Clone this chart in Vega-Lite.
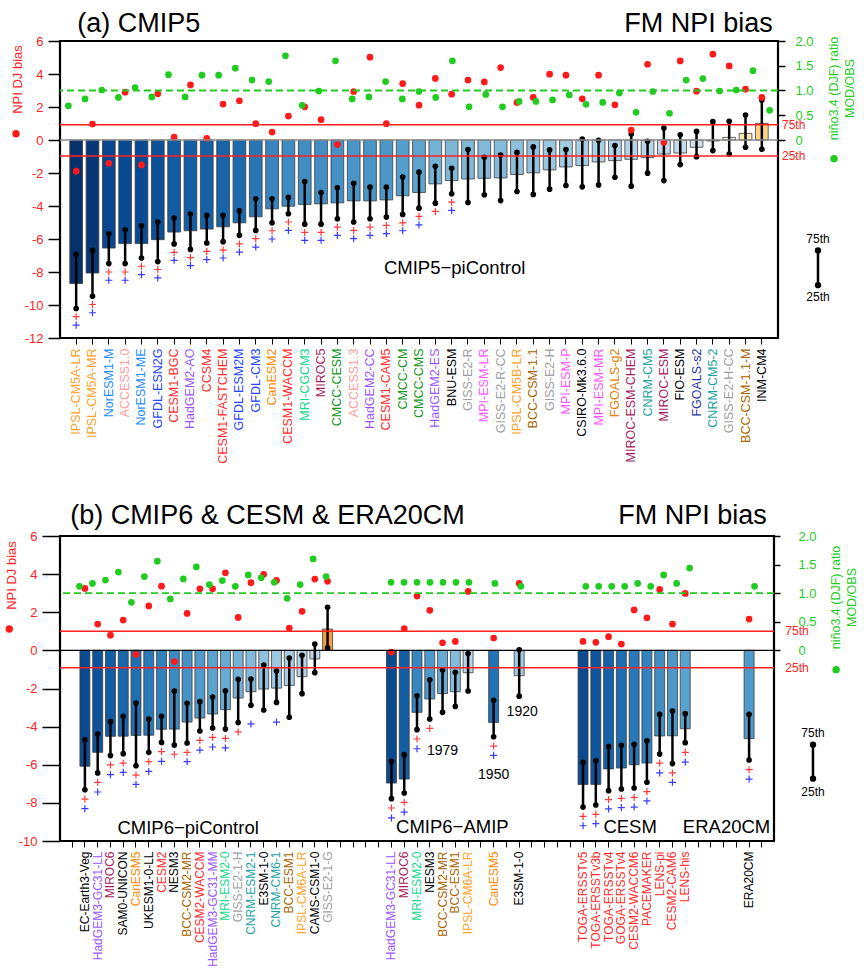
{
  "$schema": "https://vega.github.io/schema/vega-lite/v6.json",
  "padding": {"left": 4, "top": 8, "right": 0, "bottom": 0},
  "spacing": 35,
  "config": {
    "font": "Liberation Sans",
    "view": {"stroke": "black", "strokeWidth": 2.2},
    "axis": {"grid": false, "domain": false, "titleFontWeight": "normal", "labelFont": "Liberation Sans", "titleFont": "Liberation Sans", "tickColor": "black", "labelOverlap": false},
    "text": {"font": "Liberation Sans", "color": "black"}
  },
  "datasets": {
    "a": [
      {"model":"IPSL-CM5A-LR","bias":-8.70,"q75":-6.93,"q25":-10.21,"pr":-10.71,"pb":-11.22,"npi":-1.89,"ratio":0.69},
      {"model":"IPSL-CM5A-MR","bias":-8.06,"q75":-6.69,"q25":-9.47,"pr":-9.97,"pb":-10.47,"npi":0.97,"ratio":0.83},
      {"model":"NorESM1-M","bias":-6.55,"q75":-5.68,"q25":-7.49,"pr":-8.0,"pb":-8.5,"npi":-1.41,"ratio":1.01},
      {"model":"ACCESS1.0","bias":-6.28,"q75":-5.44,"q25":-7.49,"pr":-8.0,"pb":-8.5,"npi":2.90,"ratio":0.86},
      {"model":"NorESM1-ME","bias":-6.28,"q75":-5.20,"q25":-7.15,"pr":-7.65,"pb":-8.16,"npi":-1.51,"ratio":1.06},
      {"model":"GFDL-ESN2G","bias":-6.04,"q75":-4.97,"q25":-7.37,"pr":-7.85,"pb":-8.36,"npi":2.80,"ratio":0.87},
      {"model":"CESM1-BGC","bias":-5.58,"q75":-4.73,"q25":-6.30,"pr":-6.81,"pb":-7.29,"npi":0.18,"ratio":1.32},
      {"model":"HadGEM2-AO","bias":-5.50,"q75":-4.49,"q25":-6.63,"pr":-7.13,"pb":-7.61,"npi":3.34,"ratio":0.87},
      {"model":"CCSM4","bias":-5.40,"q75":-4.57,"q25":-6.24,"pr":-6.75,"pb":-7.25,"npi":0.10,"ratio":1.31},
      {"model":"CESM1-FASTCHEM","bias":-5.26,"q75":-4.57,"q25":-6.16,"pr":-6.67,"pb":-7.15,"npi":2.18,"ratio":1.31},
      {"model":"GFDL-ESM2M","bias":-5.02,"q75":-4.29,"q25":-5.78,"pr":-6.30,"pb":-6.79,"npi":2.38,"ratio":1.45},
      {"model":"GFDL-CM3","bias":-4.65,"q75":-3.56,"q25":-5.48,"pr":-5.98,"pb":-6.49,"npi":0.99,"ratio":1.21},
      {"model":"CanESM2","bias":-4.17,"q75":-3.56,"q25":-5.02,"pr":-5.50,"pb":-6.00,"npi":0.48,"ratio":1.18},
      {"model":"CESM1-WACCM","bias":-4.01,"q75":-3.48,"q25":-4.47,"pr":-4.97,"pb":-5.48,"npi":1.45,"ratio":1.70},
      {"model":"MRI-CGCM3","bias":-3.91,"q75":-2.52,"q25":-5.10,"pr":-5.60,"pb":-6.08,"npi":2.01,"ratio":0.70},
      {"model":"MIROC5","bias":-3.87,"q75":-3.18,"q25":-5.10,"pr":-5.60,"pb":-6.08,"npi":1.23,"ratio":0.99},
      {"model":"CMCC-CESM","bias":-3.81,"q75":-2.90,"q25":-4.77,"pr":-5.28,"pb":-5.78,"npi":-0.28,"ratio":1.60},
      {"model":"ACCESS1.3","bias":-3.69,"q75":-2.62,"q25":-4.97,"pr":-5.48,"pb":-5.98,"npi":2.94,"ratio":0.83},
      {"model":"HadGEM2-CC","bias":-3.69,"q75":-2.86,"q25":-4.77,"pr":-5.28,"pb":-5.78,"npi":5.02,"ratio":0.87},
      {"model":"CESM1-CAM5","bias":-3.63,"q75":-2.86,"q25":-4.67,"pr":-5.18,"pb":-5.68,"npi":0.99,"ratio":1.18},
      {"model":"CMCC-CM","bias":-3.38,"q75":-2.24,"q25":-4.51,"pr":-5.02,"pb":-5.50,"npi":3.42,"ratio":0.83},
      {"model":"CMCC-CMS","bias":-3.18,"q75":-1.95,"q25":-4.13,"pr":-4.63,"pb":-5.14,"npi":2.11,"ratio":0.98},
      {"model":"HadGEM2-ES","bias":-2.66,"q75":-1.59,"q25":-3.83,"pr":-4.33,"pb":null,"npi":3.73,"ratio":0.86},
      {"model":"BNU-ESM","bias":-2.46,"q75":-1.71,"q25":-3.26,"pr":-3.77,"pb":-4.27,"npi":2.78,"ratio":1.60},
      {"model":"GISS-E2-R","bias":-2.36,"q75":-0.58,"q25":-3.79,"pr":null,"pb":null,"npi":3.63,"ratio":0.67},
      {"model":"MPI-ESM-LR","bias":-2.32,"q75":-1.05,"q25":-3.32,"pr":null,"pb":null,"npi":3.52,"ratio":0.92},
      {"model":"GISS-E2-R-CC","bias":-2.30,"q75":-0.91,"q25":-3.67,"pr":null,"pb":null,"npi":4.39,"ratio":0.67},
      {"model":"IPSL-CM5B-LR","bias":-2.09,"q75":-0.75,"q25":-3.12,"pr":null,"pb":null,"npi":2.28,"ratio":0.78},
      {"model":"BCC-CSM-1.1","bias":-1.99,"q75":-0.42,"q25":-3.30,"pr":null,"pb":null,"npi":2.58,"ratio":0.78},
      {"model":"GISS-E2-H","bias":-1.81,"q75":-0.60,"q25":-2.98,"pr":null,"pb":null,"npi":3.99,"ratio":0.81},
      {"model":"MPI-ESM-P","bias":-1.63,"q75":-0.58,"q25":-2.76,"pr":null,"pb":null,"npi":3.93,"ratio":0.91},
      {"model":"CSIRO-Mk3.6.0","bias":-1.55,"q75":0.06,"q25":-2.84,"pr":null,"pb":null,"npi":2.50,"ratio":0.72},
      {"model":"MPI-ESM-MR","bias":-1.33,"q75":-0.02,"q25":-2.72,"pr":null,"pb":null,"npi":3.93,"ratio":0.76},
      {"model":"FGOALS-g2","bias":-1.25,"q75":-0.34,"q25":-2.26,"pr":null,"pb":null,"npi":2.13,"ratio":0.95},
      {"model":"MIROC-ESM-CHEM","bias":-1.17,"q75":0.36,"q25":-2.80,"pr":null,"pb":null,"npi":0.60,"ratio":0.56},
      {"model":"CNRM-CM5","bias":-1.07,"q75":-0.08,"q25":-2.01,"pr":null,"pb":null,"npi":4.59,"ratio":0.98},
      {"model":"MIROC-ESM","bias":-0.85,"q75":0.73,"q25":-2.46,"pr":null,"pb":null,"npi":-0.14,"ratio":0.54},
      {"model":"FIO-ESM","bias":-0.79,"q75":0.32,"q25":-1.49,"pr":null,"pb":null,"npi":4.79,"ratio":1.21},
      {"model":"FGOALS-s2","bias":-0.44,"q75":0.52,"q25":-1.01,"pr":null,"pb":null,"npi":2.96,"ratio":1.24},
      {"model":"CNRM-CM5-2","bias":-0.06,"q75":1.11,"q25":-0.64,"pr":null,"pb":null,"npi":5.20,"ratio":0.99},
      {"model":"GISS-E2-H-CC","bias":0.16,"q75":1.13,"q25":-0.85,"pr":null,"pb":null,"npi":4.49,"ratio":1.01},
      {"model":"BCC-CSM-1.1-M","bias":0.40,"q75":1.51,"q25":-0.44,"pr":null,"pb":null,"npi":3.08,"ratio":1.40},
      {"model":"INM-CM4","bias":1.01,"q75":2.42,"q25":-0.56,"pr":null,"pb":null,"npi":2.58,"ratio":0.60}
    ],
    "b": [
      {"run":"EC-Earth3-Veg","exp":"pi","bias":-6.08,"q75":-4.69,"q25":-7.31,"pr":-7.80,"pb":-8.30,"npi":3.25,"ratio":1.12},
      {"run":"HadGEM3-GC31-LL","exp":"pi","bias":-5.35,"q75":-4.39,"q25":-6.43,"pr":-6.92,"pb":-7.43,"npi":1.38,"ratio":1.17},
      {"run":"MIROC6","exp":"pi","bias":-4.51,"q75":-3.74,"q25":-5.52,"pr":-6.01,"pb":-6.52,"npi":0.80,"ratio":1.23},
      {"run":"SAM0-UNICON","exp":"pi","bias":-4.50,"q75":-3.46,"q25":-5.42,"pr":-5.91,"pb":-6.40,"npi":1.59,"ratio":1.37},
      {"run":"CanESM5","exp":"pi","bias":-4.46,"q75":-2.76,"q25":-6.05,"pr":-6.54,"pb":-7.03,"npi":-0.21,"ratio":0.84},
      {"run":"UKESM1-0-LL","exp":"pi","bias":-4.45,"q75":-3.60,"q25":-5.35,"pr":-5.84,"pb":-6.35,"npi":2.33,"ratio":1.29},
      {"run":"CESM2","exp":"pi","bias":-4.14,"q75":-3.46,"q25":-4.83,"pr":-5.31,"pb":-5.82,"npi":3.37,"ratio":1.56},
      {"run":"NESM3","exp":"pi","bias":-4.13,"q75":-2.13,"q25":-4.97,"pr":-5.45,"pb":null,"npi":-0.59,"ratio":0.90},
      {"run":"BCC-CSM2-MR","exp":"pi","bias":-3.76,"q75":-2.78,"q25":-4.86,"pr":-5.35,"pb":-5.84,"npi":1.94,"ratio":1.25},
      {"run":"CESM2-WACCM","exp":"pi","bias":-3.55,"q75":-2.69,"q25":-4.23,"pr":-4.72,"pb":-5.23,"npi":3.23,"ratio":1.46},
      {"run":"HadGEM3-GC31-MM","exp":"pi","bias":-3.34,"q75":-2.45,"q25":-4.07,"pr":-4.56,"pb":-5.07,"npi":3.23,"ratio":1.15},
      {"run":"MRI-ESM2-0","exp":"pi","bias":-3.11,"q75":-2.12,"q25":-4.13,"pr":-4.62,"pb":-5.12,"npi":4.07,"ratio":1.22},
      {"run":"GISS-E2-1-H","exp":"pi","bias":-2.50,"q75":-1.52,"q25":-3.79,"pr":-4.28,"pb":null,"npi":1.73,"ratio":1.12},
      {"run":"CNRM-ESM2-1","exp":"pi","bias":-2.17,"q75":-1.50,"q25":-2.88,"pr":null,"pb":-3.86,"npi":3.55,"ratio":1.32},
      {"run":"E3SM-1-0","exp":"pi","bias":-2.03,"q75":-0.77,"q25":-3.13,"pr":null,"pb":null,"npi":3.99,"ratio":1.27},
      {"run":"CNRM-CM6-1","exp":"pi","bias":-1.98,"q75":-1.08,"q25":-2.73,"pr":null,"pb":-3.76,"npi":3.67,"ratio":1.19},
      {"run":"BCC-ESM1","exp":"pi","bias":-1.84,"q75":-0.40,"q25":-3.51,"pr":null,"pb":null,"npi":1.17,"ratio":0.91},
      {"run":"IPSL-CM6A-LR","exp":"pi","bias":-1.38,"q75":-0.26,"q25":-2.27,"pr":null,"pb":null,"npi":2.05,"ratio":1.15},
      {"run":"CAMS-CSM1-0","exp":"pi","bias":-0.45,"q75":0.33,"q25":-1.17,"pr":null,"pb":null,"npi":3.74,"ratio":1.60},
      {"run":"GISS-E2-1-G","exp":"pi","bias":1.12,"q75":2.26,"q25":0.14,"pr":null,"pb":null,"npi":3.62,"ratio":1.29},
      {"run":"HadGEM3-GC31-LL AMIP","exp":"amip","bias":-6.96,"q75":-5.82,"q25":-7.78,"pr":-8.27,"pb":-8.79,"npi":-0.09,"ratio":1.19},
      {"run":"MIROC6 AMIP","exp":"amip","bias":-6.75,"q75":-5.47,"q25":-7.48,"pr":-7.97,"pb":-8.48,"npi":1.14,"ratio":1.19},
      {"run":"MRI-ESM2-0 AMIP","exp":"amip","bias":-3.25,"q75":-2.38,"q25":-4.16,"pr":-4.65,"pb":-5.16,"npi":2.85,"ratio":1.19},
      {"run":"NESM3 AMIP","exp":"amip","bias":-2.55,"q75":-1.54,"q25":-3.60,"pr":-4.09,"pb":null,"npi":2.10,"ratio":1.19},
      {"run":"BCC-CSM2-MR AMIP","exp":"amip","bias":-2.27,"q75":-1.03,"q25":-3.25,"pr":null,"pb":null,"npi":0.40,"ratio":1.19},
      {"run":"BCC-ESM1 AMIP","exp":"amip","bias":-2.17,"q75":-1.15,"q25":-2.94,"pr":null,"pb":null,"npi":0.47,"ratio":1.19},
      {"run":"IPSL-CM6A-LR AMIP","exp":"amip","bias":-1.17,"q75":-0.17,"q25":-2.13,"pr":null,"pb":null,"npi":3.09,"ratio":1.19},
      {"run":"CanESM5 AMIP","exp":"amip","bias":-3.78,"q75":-2.62,"q25":-4.53,"pr":-5.02,"pb":-5.51,"npi":0.65,"ratio":1.17},
      {"run":"E3SM-1-0 AMIP","exp":"amip","bias":-1.33,"q75":0.03,"q25":-2.40,"pr":null,"pb":null,"npi":3.51,"ratio":1.12},
      {"run":"TOGA-ERSSTv5","exp":"cesm","bias":-7.04,"q75":-5.87,"q25":-8.22,"pr":-8.71,"pb":-9.20,"npi":0.47,"ratio":1.12},
      {"run":"TOGA-ERSSTv3b","exp":"cesm","bias":-7.03,"q75":-5.79,"q25":-8.11,"pr":-8.60,"pb":-9.09,"npi":0.42,"ratio":1.12},
      {"run":"TOGA-ERSSTv4","exp":"cesm","bias":-6.22,"q75":-5.05,"q25":-7.36,"pr":-7.83,"pb":-8.32,"npi":0.72,"ratio":1.12},
      {"run":"GOGA-ERSSTv4","exp":"cesm","bias":-6.17,"q75":-4.98,"q25":-7.27,"pr":-7.76,"pb":-8.25,"npi":0.33,"ratio":1.12},
      {"run":"CESM2-WACCM6","exp":"cesm","bias":-6.00,"q75":-4.93,"q25":-7.22,"pr":-7.71,"pb":-8.22,"npi":2.12,"ratio":1.17},
      {"run":"PACEMAKER","exp":"cesm","bias":-5.91,"q75":-4.74,"q25":-6.92,"pr":-7.41,"pb":-7.90,"npi":1.71,"ratio":1.12},
      {"run":"LENS-pi","exp":"cesm","bias":-4.49,"q75":-3.36,"q25":-5.44,"pr":-5.91,"pb":-6.43,"npi":3.20,"ratio":1.32},
      {"run":"CESM2-CAM6","exp":"cesm","bias":-4.48,"q75":-3.18,"q25":-5.94,"pr":-6.43,"pb":-6.92,"npi":1.38,"ratio":1.17},
      {"run":"LENS-his","exp":"cesm","bias":-4.11,"q75":-3.32,"q25":-4.84,"pr":-5.35,"pb":-5.86,"npi":2.99,"ratio":1.44},
      {"run":"ERA20CM","exp":"era","bias":-4.63,"q75":-3.36,"q25":-5.75,"pr":-6.26,"pb":-6.75,"npi":1.64,"ratio":1.12}
    ]
  },
  "vconcat": [
    {
      "width": 718,
      "height": 297,
      "resolve": {"scale": {"x": "independent", "y": "independent"}},
      "layer": [
        {
          "layer": [
            {
              "data": {"name": "a"},
              "encoding": {
                "x": {"field": "model", "type": "nominal", "sort": null,
                  "scale": {"domain": ["IPSL-CM5A-LR","IPSL-CM5A-MR","NorESM1-M","ACCESS1.0","NorESM1-ME","GFDL-ESN2G","CESM1-BGC","HadGEM2-AO","CCSM4","CESM1-FASTCHEM","GFDL-ESM2M","GFDL-CM3","CanESM2","CESM1-WACCM","MRI-CGCM3","MIROC5","CMCC-CESM","ACCESS1.3","HadGEM2-CC","CESM1-CAM5","CMCC-CM","CMCC-CMS","HadGEM2-ES","BNU-ESM","GISS-E2-R","MPI-ESM-LR","GISS-E2-R-CC","IPSL-CM5B-LR","BCC-CSM-1.1","GISS-E2-H","MPI-ESM-P","CSIRO-Mk3.6.0","MPI-ESM-MR","FGOALS-g2","MIROC-ESM-CHEM","CNRM-CM5","MIROC-ESM","FIO-ESM","FGOALS-s2","CNRM-CM5-2","GISS-E2-H-CC","BCC-CSM-1.1-M","INM-CM4"], "paddingInner": 0.22, "paddingOuter": 0.6},
                  "axis": {"title": null, "labelAngle": -90, "labelFontSize": 12.5, "labelPadding": 4, "tickSize": 6, "tickWidth": 1, "tickColor": "black", "domain": false,
                    "labelColor": {"expr": "indexof(datum.value,'CMCC')>=0?'#13961c':indexof(datum.value,'IPSL')>=0?'#ffa126':indexof(datum.value,'NorESM')>=0?'#1d8cff':indexof(datum.value,'ACCESS')>=0?'#ff9c9c':indexof(datum.value,'GFDL')>=0?'#2444ff':(indexof(datum.value,'CESM')>=0||indexof(datum.value,'CCSM')>=0||indexof(datum.value,'TOGA')>=0||indexof(datum.value,'GOGA')>=0||indexof(datum.value,'PACEMAKER')>=0||indexof(datum.value,'LENS')>=0)?'#ff2b2b':indexof(datum.value,'HadGEM')>=0?'#9b55ff':indexof(datum.value,'CanESM')>=0?'#ff8a00':indexof(datum.value,'MRI')>=0?'#10d98c':indexof(datum.value,'MIROC')>=0?'#a51c5c':indexof(datum.value,'GISS')>=0?'#a0a0a0':indexof(datum.value,'MPI')>=0?'#ff55ff':indexof(datum.value,'BCC')>=0?'#a86400':indexof(datum.value,'CNRM')>=0?'#1aa3a3':indexof(datum.value,'FGOALS-s2')>=0?'#1f35a8':indexof(datum.value,'FGOALS')>=0?'#e57d00':'#000000'"}
                  }
                }
              },
              "layer": [
                {
                  "mark": {"type": "bar", "stroke": "#3c3c3c", "strokeWidth": 0.8},
                  "encoding": {
                    "y": {"field": "bias", "type": "quantitative", "scale": {"domain": [-12, 6], "nice": false, "zero": false},
                      "axis": {"orient": "left", "values": [-12,-10,-8,-6,-4,-2,0,2,4,6], "tickCount": 30, "labelOverlap": false, "labelExpr": "replace(datum.label, '\u2212', '-')", "format": "d", "labelColor": "#ff2424", "labelFontSize": 13, "labelPadding": 5, "tickSize": 12, "tickWidth": 1.5, "tickColor": "black", "title": "NPI DJ bias", "titleColor": "#ff2424", "titleFontSize": 13, "titleY": 38, "titlePadding": 0}},
                    "color": {"field": "bias", "type": "quantitative", "legend": null,
                      "scale": {"type": "linear", "interpolate": "rgb", "domain": [-8.7, -6.28, -5.02, -3.38, -1.63, -0.06, 0.0, 0.16, 0.4, 1.01], "range": ["#08306b", "#084a93", "#1c6aae", "#549fcd", "#a2cce2", "#dce9f6", "#e6eff8", "#f6efdc", "#fbe8b0", "#f9d57e"]}}
                  }
                },
                {"mark": {"type": "rule", "color": "black", "strokeWidth": 2.5}, "encoding": {"y": {"field": "q25", "type": "quantitative"}, "y2": {"field": "q75"}}},
                {"mark": {"type": "point", "filled": true, "color": "black", "size": 32, "opacity": 1}, "encoding": {"y": {"field": "q75", "type": "quantitative"}}},
                {"mark": {"type": "point", "filled": true, "color": "black", "size": 32, "opacity": 1}, "encoding": {"y": {"field": "q25", "type": "quantitative"}}},
                {"mark": {"type": "point", "shape": "M-1,0L1,0M0,-1L0,1", "filled": false, "color": "#ff3b3b", "strokeWidth": 1.2, "size": 50, "opacity": 1}, "encoding": {"y": {"field": "pr", "type": "quantitative"}}},
                {"mark": {"type": "point", "shape": "M-1,0L1,0M0,-1L0,1", "filled": false, "color": "#3b3bff", "strokeWidth": 1.2, "size": 50, "opacity": 1}, "encoding": {"y": {"field": "pb", "type": "quantitative"}}},
                {"mark": {"type": "point", "filled": true, "color": "#ff1a1a", "size": 45, "opacity": 1}, "encoding": {"y": {"field": "npi", "type": "quantitative"}}}
              ]
            },
            {
              "data": {"values": [{}]},
              "layer": [
                {"mark": {"type": "rule", "color": "#8c8c8c", "strokeWidth": 1.5}, "encoding": {"y": {"datum": 0}}},
                {"mark": {"type": "rule", "color": "#ff2020", "strokeWidth": 1.5}, "encoding": {"y": {"datum": 0.93}}},
                {"mark": {"type": "rule", "color": "#ff2020", "strokeWidth": 1.5}, "encoding": {"y": {"datum": -0.97}}},
                {"mark": {"type": "text", "text": "CMIP5\u2212piControl", "fontSize": 18.5, "dx": 3, "baseline": "middle", "align": "center"}, "encoding": {"x": {"datum": "BNU-ESM"}, "y": {"datum": -7.78}}},
                {"mark": {"type": "text", "text": "(a) CMIP5", "fontSize": 27, "dx": 1, "baseline": "alphabetic", "align": "left"}, "encoding": {"x": {"datum": "IPSL-CM5A-LR"}, "y": {"datum": 6.56}}},
                {"mark": {"type": "text", "text": "FM NPI bias", "fontSize": 27, "dx": 11, "baseline": "alphabetic", "align": "right"}, "encoding": {"x": {"datum": "INM-CM4"}, "y": {"datum": 6.56}}}
              ]
            }
          ]
        },
        {
          "layer": [
            {"data": {"values": [{}]}, "mark": {"type": "rule", "color": "#1fcc1f", "strokeWidth": 1.8, "strokeDash": [7, 4]},
             "encoding": {"y": {"datum": 1, "type": "quantitative", "scale": {"domain": [-4, 2], "nice": false, "zero": false}}}},
            {"data": {"name": "a"}, "mark": {"type": "point", "filled": true, "color": "#1fcc1f", "size": 45, "opacity": 1},
             "encoding": {
               "x": {"field": "model", "type": "nominal", "sort": null, "scale": {"domain": ["IPSL-CM5A-LR","IPSL-CM5A-MR","NorESM1-M","ACCESS1.0","NorESM1-ME","GFDL-ESN2G","CESM1-BGC","HadGEM2-AO","CCSM4","CESM1-FASTCHEM","GFDL-ESM2M","GFDL-CM3","CanESM2","CESM1-WACCM","MRI-CGCM3","MIROC5","CMCC-CESM","ACCESS1.3","HadGEM2-CC","CESM1-CAM5","CMCC-CM","CMCC-CMS","HadGEM2-ES","BNU-ESM","GISS-E2-R","MPI-ESM-LR","GISS-E2-R-CC","IPSL-CM5B-LR","BCC-CSM-1.1","GISS-E2-H","MPI-ESM-P","CSIRO-Mk3.6.0","MPI-ESM-MR","FGOALS-g2","MIROC-ESM-CHEM","CNRM-CM5","MIROC-ESM","FIO-ESM","FGOALS-s2","CNRM-CM5-2","GISS-E2-H-CC","BCC-CSM-1.1-M","INM-CM4"], "paddingInner": 0.22, "paddingOuter": 0.6}, "axis": null},
               "y": {"field": "ratio", "type": "quantitative", "scale": {"domain": [-4, 2], "nice": false, "zero": false},
                 "axis": {"orient": "right", "values": [0, 0.5, 1, 1.5, 2], "tickCount": 30, "labelOverlap": false, "labelExpr": "datum.value == 0 ? '0' : format(datum.value, '.1f')", "labelColor": "#1fcc1f", "labelFontSize": 13, "labelPadding": 10, "tickSize": 7, "tickWidth": 1.5, "tickColor": "black",
                   "title": ["niño3.4 (DJF) ratio", "MOD/OBS"], "titleColor": "#1fcc1f", "titleFontSize": 12.5, "titleAngle": -90, "titleBaseline": "top", "titleAlign": "center", "titleX": 49, "titleY": 47, "titleLineHeight": 16}}
             }}
          ]
        },
        {
          "data": {"values": [{}]},
          "layer": [
            {"mark": {"type": "point", "filled": true, "color": "#ff1a1a", "size": 55, "opacity": 1},
             "encoding": {"x": {"datum": -0.0613, "type": "quantitative", "scale": {"domain": [0, 1], "nice": false, "zero": false}, "axis": null}, "y": {"datum": 0.38, "type": "quantitative", "scale": {"domain": [-12, 6], "nice": false, "zero": false}, "axis": null}}},
            {"mark": {"type": "point", "filled": true, "color": "#1fcc1f", "size": 55, "opacity": 1},
             "encoding": {"x": {"datum": 1.078, "type": "quantitative", "axis": null}, "y": {"datum": -1.13, "type": "quantitative", "axis": null}}},
            {"mark": {"type": "text", "text": "75th", "color": "#ff2020", "fontSize": 12, "align": "left", "baseline": "middle"},
             "encoding": {"x": {"datum": 1.0056, "type": "quantitative", "axis": null}, "y": {"datum": 0.93, "type": "quantitative", "axis": null}}},
            {"mark": {"type": "text", "text": "25th", "color": "#ff2020", "fontSize": 12, "align": "left", "baseline": "middle"},
             "encoding": {"x": {"datum": 1.0056, "type": "quantitative", "axis": null}, "y": {"datum": -0.97, "type": "quantitative", "axis": null}}},
            {"mark": {"type": "rule", "color": "black", "strokeWidth": 2.5},
             "encoding": {"x": {"datum": 1.0557, "type": "quantitative", "axis": null}, "y": {"datum": -6.69, "type": "quantitative", "axis": null}, "y2": {"datum": -8.8}}},
            {"mark": {"type": "point", "filled": true, "color": "black", "size": 40, "opacity": 1},
             "encoding": {"x": {"datum": 1.0557, "type": "quantitative", "axis": null}, "y": {"datum": -6.69, "type": "quantitative", "axis": null}}},
            {"mark": {"type": "point", "filled": true, "color": "black", "size": 40, "opacity": 1},
             "encoding": {"x": {"datum": 1.0557, "type": "quantitative", "axis": null}, "y": {"datum": -8.8, "type": "quantitative", "axis": null}}},
            {"mark": {"type": "text", "text": "75th", "fontSize": 12, "align": "center", "baseline": "middle"},
             "encoding": {"x": {"datum": 1.0557, "type": "quantitative", "axis": null}, "y": {"datum": -6.02, "type": "quantitative", "axis": null}}},
            {"mark": {"type": "text", "text": "25th", "fontSize": 12, "align": "center", "baseline": "middle"},
             "encoding": {"x": {"datum": 1.0557, "type": "quantitative", "axis": null}, "y": {"datum": -9.53, "type": "quantitative", "axis": null}}}
          ]
        }
      ]
    },
    {
      "width": 714,
      "height": 305,
      "resolve": {"scale": {"x": "independent", "y": "independent"}},
      "layer": [
        {
          "layer": [
            {
              "data": {"name": "b"},
              "resolve": {"scale": {"color": "independent"}},
              "encoding": {
                "x": {"field": "run", "type": "nominal", "sort": null,
                  "scale": {"domain": ["gap0","EC-Earth3-Veg","HadGEM3-GC31-LL","MIROC6","SAM0-UNICON","CanESM5","UKESM1-0-LL","CESM2","NESM3","BCC-CSM2-MR","CESM2-WACCM","HadGEM3-GC31-MM","MRI-ESM2-0","GISS-E2-1-H","CNRM-ESM2-1","E3SM-1-0","CNRM-CM6-1","BCC-ESM1","IPSL-CM6A-LR","CAMS-CSM1-0","GISS-E2-1-G","gap1","gap2","gap3","gap4","HadGEM3-GC31-LL AMIP","MIROC6 AMIP","MRI-ESM2-0 AMIP","NESM3 AMIP","BCC-CSM2-MR AMIP","BCC-ESM1 AMIP","IPSL-CM6A-LR AMIP","gap5","CanESM5 AMIP","gap6","E3SM-1-0 AMIP","gap7","gap8","gap9","gap10","TOGA-ERSSTv5","TOGA-ERSSTv3b","TOGA-ERSSTv4","GOGA-ERSSTv4","CESM2-WACCM6","PACEMAKER","LENS-pi","CESM2-CAM6","LENS-his","gap11","gap12","gap13","gap14","ERA20CM","gap15"], "paddingInner": 0.22, "paddingOuter": 0.56},
                  "axis": {"title": null, "labelAngle": -90, "labelFontSize": 12, "labelPadding": 4, "tickSize": 6, "tickWidth": 1, "tickColor": "black", "domain": false,
                    "labelExpr": "indexof(datum.value,'gap')==0 ? '' : replace(datum.value,' AMIP','')",
                    "labelColor": {"expr": "indexof(datum.value,'CMCC')>=0?'#13961c':indexof(datum.value,'IPSL')>=0?'#ffa126':indexof(datum.value,'NorESM')>=0?'#1d8cff':indexof(datum.value,'ACCESS')>=0?'#ff9c9c':indexof(datum.value,'GFDL')>=0?'#2444ff':(indexof(datum.value,'CESM')>=0||indexof(datum.value,'CCSM')>=0||indexof(datum.value,'TOGA')>=0||indexof(datum.value,'GOGA')>=0||indexof(datum.value,'PACEMAKER')>=0||indexof(datum.value,'LENS')>=0)?'#ff2b2b':indexof(datum.value,'HadGEM')>=0?'#9b55ff':indexof(datum.value,'CanESM')>=0?'#ff8a00':indexof(datum.value,'MRI')>=0?'#10d98c':indexof(datum.value,'MIROC')>=0?'#a51c5c':indexof(datum.value,'GISS')>=0?'#a0a0a0':indexof(datum.value,'MPI')>=0?'#ff55ff':indexof(datum.value,'BCC')>=0?'#a86400':indexof(datum.value,'CNRM')>=0?'#1aa3a3':indexof(datum.value,'FGOALS-s2')>=0?'#1f35a8':indexof(datum.value,'FGOALS')>=0?'#e57d00':'#000000'"}
                  }
                }
              },
              "layer": [
                {
                  "transform": [{"filter": "datum.exp == 'pi'"}],
                  "mark": {"type": "bar", "stroke": "#3c3c3c", "strokeWidth": 0.8},
                  "encoding": {
                    "y": {"field": "bias", "type": "quantitative", "scale": {"domain": [-10, 6], "nice": false, "zero": false},
                      "axis": {"orient": "left", "values": [-10,-8,-6,-4,-2,0,2,4,6], "tickCount": 30, "labelOverlap": false, "labelExpr": "replace(datum.label, '\u2212', '-')", "format": "d", "labelColor": "#ff2424", "labelFontSize": 13, "labelPadding": 5, "tickSize": 18, "tickWidth": 1.5, "tickColor": "black", "title": "NPI DJ bias", "titleColor": "#ff2424", "titleFontSize": 13, "titleY": 39, "titlePadding": 0}},
                    "color": {"field": "run", "type": "nominal", "sort": {"field": "bias", "op": "min"}, "scale": {"scheme": {"name": "blues", "extent": [1.05, 0.0]}}, "legend": null,
                      "condition": [{"test": "datum.bias > 0", "value": "#f4a040"}]}
                  }
                },
                {
                  "transform": [{"filter": "datum.exp == 'amip'"}],
                  "mark": {"type": "bar", "stroke": "#3c3c3c", "strokeWidth": 0.8},
                  "encoding": {
                    "y": {"field": "bias", "type": "quantitative"},
                    "color": {"field": "run", "type": "nominal", "sort": {"field": "bias", "op": "min"}, "scale": {"scheme": {"name": "blues", "extent": [1.11, 0.01]}}, "legend": null}
                  }
                },
                {
                  "transform": [{"filter": "datum.exp == 'cesm'"}],
                  "mark": {"type": "bar", "stroke": "#3c3c3c", "strokeWidth": 0.8},
                  "encoding": {
                    "y": {"field": "bias", "type": "quantitative"},
                    "color": {"field": "run", "type": "nominal", "sort": {"field": "bias", "op": "min"}, "scale": {"scheme": {"name": "blues", "extent": [1.0625, 0.4375]}}, "legend": null}
                  }
                },
                {
                  "transform": [{"filter": "datum.exp == 'era'"}],
                  "mark": {"type": "bar", "stroke": "#3c3c3c", "strokeWidth": 0.8},
                  "encoding": {
                    "y": {"field": "bias", "type": "quantitative"},
                    "color": {"field": "run", "type": "nominal", "scale": {"scheme": {"name": "blues", "extent": [0.55, 0.55]}}, "legend": null}
                  }
                },
                {"mark": {"type": "rule", "color": "black", "strokeWidth": 2.5}, "encoding": {"y": {"field": "q25", "type": "quantitative"}, "y2": {"field": "q75"}}},
                {"mark": {"type": "point", "filled": true, "color": "black", "size": 32, "opacity": 1}, "encoding": {"y": {"field": "q75", "type": "quantitative"}}},
                {"mark": {"type": "point", "filled": true, "color": "black", "size": 32, "opacity": 1}, "encoding": {"y": {"field": "q25", "type": "quantitative"}}},
                {"mark": {"type": "point", "shape": "M-1,0L1,0M0,-1L0,1", "filled": false, "color": "#ff3b3b", "strokeWidth": 1.2, "size": 50, "opacity": 1}, "encoding": {"y": {"field": "pr", "type": "quantitative"}}},
                {"mark": {"type": "point", "shape": "M-1,0L1,0M0,-1L0,1", "filled": false, "color": "#3b3bff", "strokeWidth": 1.2, "size": 50, "opacity": 1}, "encoding": {"y": {"field": "pb", "type": "quantitative"}}},
                {"mark": {"type": "point", "filled": true, "color": "#ff1a1a", "size": 45, "opacity": 1}, "encoding": {"y": {"field": "npi", "type": "quantitative"}}}
              ]
            },
            {
              "data": {"values": [{}]},
              "layer": [
                {"mark": {"type": "rule", "color": "black", "strokeWidth": 1.2}, "encoding": {"y": {"datum": 0}}},
                {"mark": {"type": "rule", "color": "#ff2020", "strokeWidth": 1.5}, "encoding": {"y": {"datum": 1.0}}},
                {"mark": {"type": "rule", "color": "#ff2020", "strokeWidth": 1.5}, "encoding": {"y": {"datum": -0.91}}},
                {"mark": {"type": "text", "text": "CMIP6\u2212piControl", "fontSize": 18.5, "dx": 1, "baseline": "middle", "align": "center"}, "encoding": {"x": {"datum": "BCC-CSM2-MR"}, "y": {"datum": -9.3}}},
                {"mark": {"type": "text", "text": "CMIP6\u2212AMIP", "fontSize": 18.5, "dx": -3, "baseline": "middle", "align": "center"}, "encoding": {"x": {"datum": "BCC-ESM1 AMIP"}, "y": {"datum": -9.29}}},
                {"mark": {"type": "text", "text": "CESM", "fontSize": 18.5, "dx": -4, "baseline": "middle", "align": "center"}, "encoding": {"x": {"datum": "CESM2-WACCM6"}, "y": {"datum": -9.29}}},
                {"mark": {"type": "text", "text": "ERA20CM", "fontSize": 18.5, "dx": 3, "baseline": "middle", "align": "center"}, "encoding": {"x": {"datum": "gap13"}, "y": {"datum": -9.29}}},
                {"mark": {"type": "text", "text": "1979", "fontSize": 14, "baseline": "middle", "align": "center"}, "encoding": {"x": {"datum": "BCC-CSM2-MR AMIP"}, "y": {"datum": -5.3}}},
                {"mark": {"type": "text", "text": "1950", "fontSize": 14, "baseline": "middle", "align": "center"}, "encoding": {"x": {"datum": "CanESM5 AMIP"}, "y": {"datum": -6.52}}},
                {"mark": {"type": "text", "text": "1920", "fontSize": 14, "dx": 3, "baseline": "middle", "align": "center"}, "encoding": {"x": {"datum": "E3SM-1-0 AMIP"}, "y": {"datum": -3.25}}},
                {"mark": {"type": "text", "text": "(b) CMIP6 & CESM & ERA20CM", "fontSize": 27, "dx": -2, "baseline": "alphabetic", "align": "left"}, "encoding": {"x": {"datum": "gap0"}, "y": {"datum": 6.63}}},
                {"mark": {"type": "text", "text": "FM NPI bias", "fontSize": 27, "dx": 5, "baseline": "alphabetic", "align": "right"}, "encoding": {"x": {"datum": "gap15"}, "y": {"datum": 6.63}}}
              ]
            }
          ]
        },
        {
          "layer": [
            {"data": {"values": [{}]}, "mark": {"type": "rule", "color": "#1fcc1f", "strokeWidth": 1.8, "strokeDash": [7, 4]},
             "encoding": {"y": {"datum": 1, "type": "quantitative", "scale": {"domain": [-3.3333, 2], "nice": false, "zero": false}}}},
            {"data": {"name": "b"}, "mark": {"type": "point", "filled": true, "color": "#1fcc1f", "size": 45, "opacity": 1},
             "encoding": {
               "x": {"field": "run", "type": "nominal", "sort": null, "scale": {"domain": ["gap0","EC-Earth3-Veg","HadGEM3-GC31-LL","MIROC6","SAM0-UNICON","CanESM5","UKESM1-0-LL","CESM2","NESM3","BCC-CSM2-MR","CESM2-WACCM","HadGEM3-GC31-MM","MRI-ESM2-0","GISS-E2-1-H","CNRM-ESM2-1","E3SM-1-0","CNRM-CM6-1","BCC-ESM1","IPSL-CM6A-LR","CAMS-CSM1-0","GISS-E2-1-G","gap1","gap2","gap3","gap4","HadGEM3-GC31-LL AMIP","MIROC6 AMIP","MRI-ESM2-0 AMIP","NESM3 AMIP","BCC-CSM2-MR AMIP","BCC-ESM1 AMIP","IPSL-CM6A-LR AMIP","gap5","CanESM5 AMIP","gap6","E3SM-1-0 AMIP","gap7","gap8","gap9","gap10","TOGA-ERSSTv5","TOGA-ERSSTv3b","TOGA-ERSSTv4","GOGA-ERSSTv4","CESM2-WACCM6","PACEMAKER","LENS-pi","CESM2-CAM6","LENS-his","gap11","gap12","gap13","gap14","ERA20CM","gap15"], "paddingInner": 0.22, "paddingOuter": 0.56}, "axis": null},
               "y": {"field": "ratio", "type": "quantitative", "scale": {"domain": [-3.3333, 2], "nice": false, "zero": false},
                 "axis": {"orient": "right", "values": [0, 0.5, 1, 1.5, 2], "tickCount": 30, "labelOverlap": false, "labelExpr": "datum.value == 0 ? '0' : format(datum.value, '.1f')", "labelColor": "#1fcc1f", "labelFontSize": 13, "labelPadding": 18, "tickSize": 6, "tickWidth": 1.5, "tickColor": "black",
                   "title": ["niño3.4 (DJF) ratio", "MOD/OBS"], "titleColor": "#1fcc1f", "titleFontSize": 12.5, "titleAngle": -90, "titleBaseline": "top", "titleAlign": "center", "titleX": 55, "titleY": 61, "titleLineHeight": 16}}
             }}
          ]
        },
        {
          "data": {"values": [{}]},
          "layer": [
            {"mark": {"type": "point", "filled": true, "color": "#ff1a1a", "size": 55, "opacity": 1},
             "encoding": {"x": {"datum": -0.071, "type": "quantitative", "scale": {"domain": [0, 1], "nice": false, "zero": false}, "axis": null}, "y": {"datum": 1.12, "type": "quantitative", "scale": {"domain": [-10, 6], "nice": false, "zero": false}, "axis": null}}},
            {"mark": {"type": "point", "filled": true, "color": "#1fcc1f", "size": 55, "opacity": 1},
             "encoding": {"x": {"datum": 1.087, "type": "quantitative", "axis": null}, "y": {"datum": -1.01, "type": "quantitative", "axis": null}}},
            {"mark": {"type": "text", "text": "75th", "color": "#ff2020", "fontSize": 12, "align": "left", "baseline": "middle"},
             "encoding": {"x": {"datum": 1.0158, "type": "quantitative", "axis": null}, "y": {"datum": 1.0, "type": "quantitative", "axis": null}}},
            {"mark": {"type": "text", "text": "25th", "color": "#ff2020", "fontSize": 12, "align": "left", "baseline": "middle"},
             "encoding": {"x": {"datum": 1.0158, "type": "quantitative", "axis": null}, "y": {"datum": -0.91, "type": "quantitative", "axis": null}}},
            {"mark": {"type": "rule", "color": "black", "strokeWidth": 2.5},
             "encoding": {"x": {"datum": 1.0546, "type": "quantitative", "axis": null}, "y": {"datum": -4.95, "type": "quantitative", "axis": null}, "y2": {"datum": -6.73}}},
            {"mark": {"type": "point", "filled": true, "color": "black", "size": 40, "opacity": 1},
             "encoding": {"x": {"datum": 1.0546, "type": "quantitative", "axis": null}, "y": {"datum": -4.95, "type": "quantitative", "axis": null}}},
            {"mark": {"type": "point", "filled": true, "color": "black", "size": 40, "opacity": 1},
             "encoding": {"x": {"datum": 1.0546, "type": "quantitative", "axis": null}, "y": {"datum": -6.73, "type": "quantitative", "axis": null}}},
            {"mark": {"type": "text", "text": "75th", "fontSize": 12, "align": "center", "baseline": "middle"},
             "encoding": {"x": {"datum": 1.0546, "type": "quantitative", "axis": null}, "y": {"datum": -4.32, "type": "quantitative", "axis": null}}},
            {"mark": {"type": "text", "text": "25th", "fontSize": 12, "align": "center", "baseline": "middle"},
             "encoding": {"x": {"datum": 1.0546, "type": "quantitative", "axis": null}, "y": {"datum": -7.41, "type": "quantitative", "axis": null}}}
          ]
        }
      ]
    }
  ]
}
